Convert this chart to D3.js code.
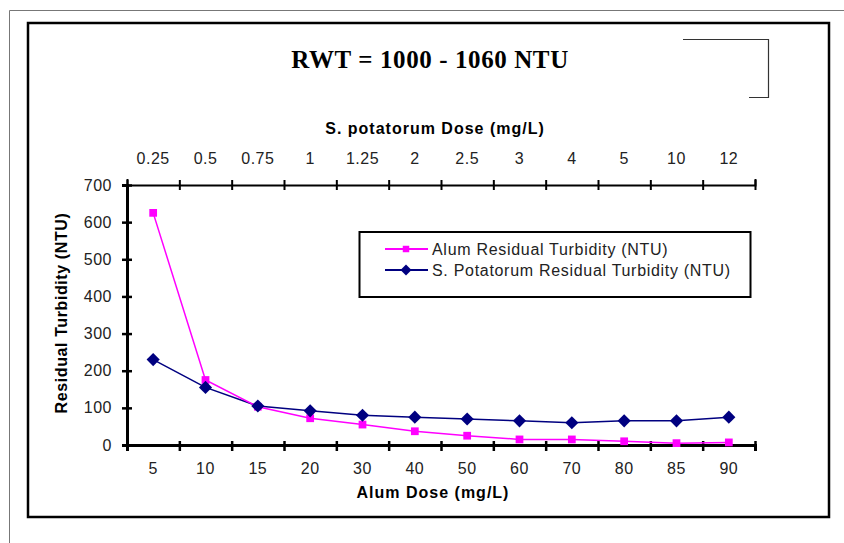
<!DOCTYPE html>
<html>
<head>
<meta charset="utf-8">
<script src="https://cdn.jsdelivr.net/npm/d3@7"></script>
<style>
  body { margin: 0; background: #fff; }
  svg { display: block; font-family: "Liberation Sans", Arial, sans-serif; }
  .tick text { fill: #222; }
</style>
</head>
<body>
<script>
// Chart data
const alumDose = ['5', '10', '15', '20', '30', '40', '50', '60', '70', '80', '85', '90'];
const spDose = ['0.25', '0.5', '0.75', '1', '1.25', '2', '2.5', '3', '4', '5', '10', '12'];
const alumResidual = [625, 175, 103, 72, 55, 37, 25, 15, 15, 10, 5, 7];
const spResidual = [230, 155, 105, 92, 80, 75, 70, 65, 60, 65, 65, 75];
const yTicks = [0, 100, 200, 300, 400, 500, 600, 700];

const w = 844;
const h = 543;
const plot = { left: 127, right: 755, top: 185, bottom: 445 };

const svg = d3.select('body')
  .append('svg')
  .attr('width', w)
  .attr('height', h);

// Frames
svg.append('path')
  .attr('d', `M9.5,${h} V10.5 H${w}`)
  .attr('fill', 'none')
  .attr('stroke', '#777')
  .attr('stroke-width', 1);

svg.append('rect')
  .attr('x', 28)
  .attr('y', 23)
  .attr('width', 801)
  .attr('height', 494)
  .attr('fill', 'none')
  .attr('stroke', '#000')
  .attr('stroke-width', 2.5);

svg.append('path')
  .attr('d', 'M683,39.5 H768.5 V97.5 H749')
  .attr('fill', 'none')
  .attr('stroke', '#333')
  .attr('stroke-width', 1.2);

// Title
svg.append('text')
  .attr('x', 430)
  .attr('y', 68)
  .attr('text-anchor', 'middle')
  .style('font-family', '"Liberation Serif", "Times New Roman", serif')
  .style('font-weight', 'bold')
  .style('font-size', '25px')
  .style('letter-spacing', '0.6px')
  .text('RWT = 1000 - 1060 NTU');

// Scales
const xBottom = d3.scaleBand().domain(alumDose).range([plot.left, plot.right]);
const xTop = d3.scaleBand().domain(spDose).range([plot.left, plot.right]);
const xTicks = d3.scaleLinear().domain([0, alumDose.length]).range([plot.left, plot.right]);
const y = d3.scaleLinear().domain([0, 700]).range([plot.bottom, plot.top]);

const tickFont = g => g.selectAll('text')
  .style('font-size', '16px')
  .style('letter-spacing', '0.5px');

// Bottom axis: labels then boundary ticks
svg.append('g')
  .attr('transform', `translate(0, ${plot.bottom})`)
  .call(d3.axisBottom(xBottom).tickSize(0).tickPadding(18))
  .call(g => g.select('.domain').remove())
  .call(tickFont);

svg.append('g')
  .attr('transform', `translate(0, ${plot.bottom})`)
  .call(d3.axisBottom(xTicks).tickValues(d3.range(alumDose.length + 1)).tickFormat(''))
  .call(g => g.select('.domain').attr('stroke-width', 3))
  .call(g => g.selectAll('.tick line').attr('y1', -4).attr('y2', 6).attr('stroke-width', 2.5));

// Top axis
svg.append('g')
  .attr('transform', `translate(0, ${y(700)})`)
  .call(d3.axisTop(xTop).tickSize(0).tickPadding(21))
  .call(g => g.select('.domain').remove())
  .call(tickFont);

svg.append('g')
  .attr('transform', `translate(0, ${y(700)})`)
  .call(d3.axisTop(xTicks).tickValues(d3.range(alumDose.length + 1)).tickFormat(''))
  .call(g => g.select('.domain').attr('stroke-width', 2))
  .call(g => g.selectAll('.tick line').attr('y1', 5).attr('y2', -5).attr('stroke-width', 2));

// Left axis
svg.append('g')
  .attr('transform', `translate(${plot.left}, 0)`)
  .call(d3.axisLeft(y).tickValues(yTicks).tickSize(5).tickPadding(10))
  .call(g => g.select('.domain').attr('stroke-width', 3))
  .call(g => g.selectAll('.tick line').attr('x2', 5).attr('x1', -5).attr('stroke-width', 2.5))
  .call(tickFont);

// Axis titles
const axisTitle = sel => sel
  .attr('text-anchor', 'middle')
  .style('font-weight', 'bold')
  .style('font-size', '16px')
  .style('letter-spacing', '1px');

svg.append('text')
  .attr('x', 433)
  .attr('y', 498)
  .call(axisTitle)
  .text('Alum Dose (mg/L)');

svg.append('text')
  .attr('x', 435)
  .attr('y', 134)
  .call(axisTitle)
  .text('S. potatorum Dose (mg/L)');

svg.append('text')
  .attr('transform', `translate(67, 313) rotate(-90)`)
  .call(axisTitle)
  .style('letter-spacing', '0.6px')
  .text('Residual Turbidity (NTU)');

// Series
const cx = (d, i) => xBottom(alumDose[i]) + xBottom.bandwidth() / 2;
const line = d3.line().x(cx).y(d => y(d));

const series = [
  { name: 'Alum Residual Turbidity (NTU)', values: alumResidual, color: '#ff00ff', symbol: d3.symbolSquare, size: 60 },
  { name: 'S. Potatorum Residual Turbidity (NTU)', values: spResidual, color: '#000080', symbol: d3.symbolDiamond2, size: 110 },
];

series.slice().reverse().forEach(s => {
  svg.append('path')
    .datum(s.values)
    .attr('d', line)
    .attr('fill', 'none')
    .attr('stroke', s.color)
    .attr('stroke-width', 1.5);
});

series.forEach(s => {
  svg.append('g')
    .selectAll('path')
    .data(s.values)
    .enter()
    .append('path')
    .attr('transform', (d, i) => `translate(${cx(d, i)}, ${y(d)})`)
    .attr('d', d3.symbol().type(s.symbol).size(s.size))
    .attr('fill', s.color);
});

// Legend
const legend = svg.append('g');
legend.append('rect')
  .attr('x', 359.5)
  .attr('y', 232)
  .attr('width', 391)
  .attr('height', 65)
  .attr('fill', '#fff')
  .attr('stroke', '#000')
  .attr('stroke-width', 2);

series.forEach((s, i) => {
  const ly = 249 + i * 21;
  legend.append('line')
    .attr('x1', 385).attr('x2', 428)
    .attr('y1', ly).attr('y2', ly)
    .attr('stroke', s.color)
    .attr('stroke-width', 2);
  legend.append('path')
    .attr('transform', `translate(406, ${ly})`)
    .attr('d', d3.symbol().type(s.symbol).size(s.size * 0.7))
    .attr('fill', s.color);
  legend.append('text')
    .attr('x', 432)
    .attr('y', ly + 5.5)
    .style('font-size', '16px')
    .style('letter-spacing', '0.7px')
    .style('fill', '#222')
    .text(s.name);
});
</script>
</body>
</html>
